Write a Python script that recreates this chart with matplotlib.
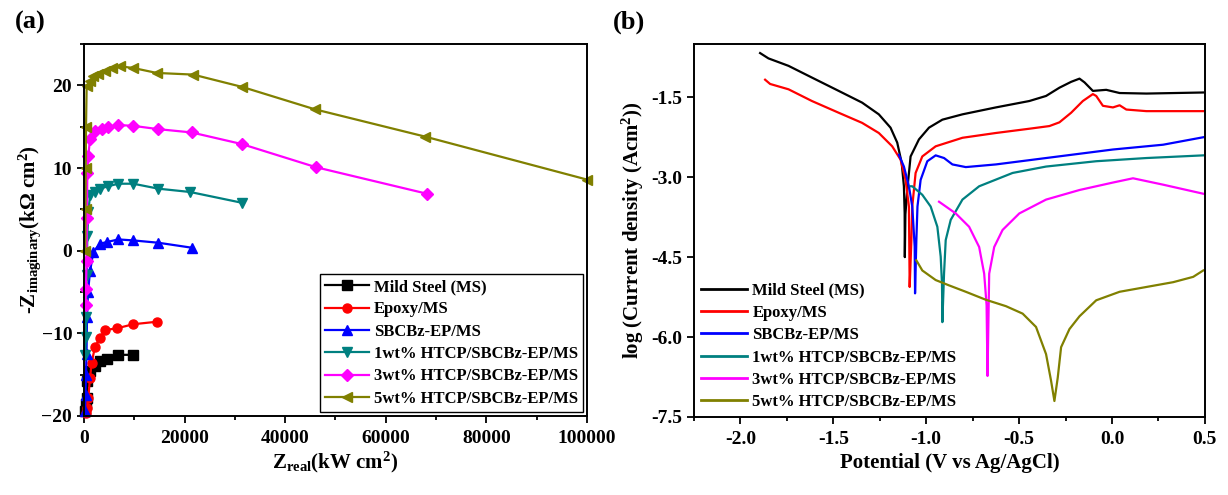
import matplotlib
matplotlib.use("Agg")
import matplotlib.pyplot as plt
from matplotlib.ticker import MultipleLocator, FormatStrFormatter

plt.rcParams['font.family'] = ['Liberation Serif', 'DejaVu Serif']
plt.rcParams['font.weight'] = 'bold'
plt.rcParams['mathtext.fontset'] = 'custom'
plt.rcParams['mathtext.rm'] = 'Liberation Serif:bold'
plt.rcParams['mathtext.it'] = 'Liberation Serif:bold:italic'
plt.rcParams['mathtext.bf'] = 'Liberation Serif:bold'

labels = ["Mild Steel (MS)", "Epoxy/MS", "SBCBz-EP/MS",
          "1wt% HTCP/SBCBz-EP/MS", "3wt% HTCP/SBCBz-EP/MS", "5wt% HTCP/SBCBz-EP/MS"]
colors = ["#000000", "#ff0000", "#0000ff", "#008080", "#ff00ff", "#808000"]
markers = ["s", "o", "^", "v", "D", "<"]

# ---------- (a) Nyquist data ----------
ms_zr = [200, 400, 530, 660, 1200, 2190, 3180, 4510, 6830, 9800]
ms_zi = [-19.4, -18.5, -17.8, -15.8, -14.6, -14.0, -13.4, -13.1, -12.6, -12.6]

ep_zr = [300, 500, 860, 1200, 1520, 2190, 3180, 4170, 6500, 9800, 14450]
ep_zi = [-19.6, -19.0, -17.8, -15.4, -13.6, -11.6, -10.6, -9.6, -9.4, -8.9, -8.6]

sb_zr = [200, 300, 400, 500, 600, 800, 1200, 1850, 3180, 4510, 6830, 9800, 14770, 21400]
sb_zi = [-19.4, -17.5, -15.0, -12.5, -8.0, -5.0, -2.5, -0.16, 0.84, 1.04, 1.36, 1.24, 0.96, 0.36]

h1_zr = [250, 350, 450, 550, 660, 860, 1200, 2190, 3180, 4830, 6830, 9800, 14770, 21070, 31350]
h1_zi = [-12.6, -10.5, -8.0, -3.0, 1.8, 4.7, 6.7, 7.1, 7.5, 7.8, 8.1, 8.1, 7.5, 7.1, 5.8]

h3_zr = [300, 400, 500, 580, 660, 860, 1200, 2190, 3510, 4830, 6830, 9800, 14770, 21400, 31350, 46100, 68100]
h3_zi = [-6.6, -4.6, -1.3, 4.0, 9.4, 11.5, 13.5, 14.5, 14.7, 14.9, 15.2, 15.1, 14.7, 14.3, 12.9, 10.1, 6.9]

h5_zr = [250, 300, 350, 400, 530, 1200, 1850, 2850, 4170, 5500, 7160, 9800, 14450, 21700, 31500, 45900, 67800, 100000]
h5_zi = [0.0, 5.0, 10.0, 15.0, 19.9, 20.5, 21.1, 21.4, 21.7, 22.1, 22.3, 22.1, 21.5, 21.3, 19.8, 17.1, 13.8, 8.6]

# ---------- (b) Tafel data ----------
ms_E = [-1.894, -1.849, -1.741, -1.615, -1.471, -1.345, -1.255, -1.192, -1.156, -1.132, -1.120, -1.116, -1.115,
        -1.112, -1.102, -1.084, -1.039, -0.985, -0.913, -0.805, -0.625, -0.445, -0.355, -0.283, -0.220, -0.175,
        -0.148, -0.103, -0.031, 0.041, 0.185, 0.491]
ms_I = [-0.67, -0.77, -0.91, -1.13, -1.38, -1.60, -1.82, -2.07, -2.35, -2.73, -3.17, -3.67, -4.50,
        -3.70, -3.24, -2.61, -2.29, -2.07, -1.92, -1.82, -1.69, -1.57, -1.475, -1.32, -1.21, -1.15,
        -1.22, -1.38, -1.36, -1.42, -1.43, -1.41]

ep_E = [-1.867, -1.840, -1.741, -1.615, -1.471, -1.345, -1.255, -1.183, -1.138, -1.111, -1.093, -1.089,
        -1.080, -1.075, -1.057, -1.021, -0.949, -0.805, -0.625, -0.445, -0.337, -0.283, -0.220, -0.157, -0.103,
        -0.085, -0.049, 0.005, 0.041, 0.077, 0.185, 0.491]
ep_I = [-1.17, -1.25, -1.35, -1.57, -1.79, -1.98, -2.17, -2.42, -2.67, -3.05, -3.55, -5.06,
        -4.20, -3.55, -2.92, -2.61, -2.42, -2.26, -2.17, -2.09, -2.04, -1.97, -1.79, -1.57, -1.44,
        -1.475, -1.66, -1.69, -1.65, -1.73, -1.76, -1.76]

sb_E = [-1.147, -1.120, -1.093, -1.075, -1.062, -1.060, -1.053, -1.047, -1.030, -0.994, -0.949, -0.904,
        -0.859, -0.787, -0.625, -0.355, 0.005, 0.275, 0.491]
sb_I = [-2.58, -2.80, -3.17, -3.55, -4.30, -5.18, -4.18, -3.55, -3.05, -2.70, -2.59, -2.64,
        -2.76, -2.81, -2.76, -2.64, -2.48, -2.39, -2.25]

h1_E = [-1.084, -1.075, -1.021, -0.976, -0.940, -0.922, -0.915, -0.913, -0.904, -0.895, -0.868, -0.805,
        -0.715, -0.535, -0.355, -0.085, 0.185, 0.491]
h1_I = [-3.17, -3.17, -3.33, -3.55, -3.93, -4.49, -5.00, -5.72, -4.81, -4.18, -3.80, -3.42,
        -3.17, -2.92, -2.80, -2.70, -2.64, -2.59]

h3_E = [-0.931, -0.841, -0.769, -0.715, -0.688, -0.675, -0.670, -0.661, -0.634, -0.589, -0.499, -0.355,
        -0.175, 0.005, 0.113, 0.275, 0.491]
h3_I = [-3.46, -3.68, -3.93, -4.31, -4.81, -5.40, -6.73, -4.81, -4.31, -3.99, -3.68, -3.42,
        -3.24, -3.10, -3.02, -3.14, -3.31]

h5_E = [-1.053, -1.021, -0.949, -0.877, -0.787, -0.679, -0.571, -0.481, -0.409, -0.355, -0.328, -0.310,
        -0.292, -0.274, -0.229, -0.175, -0.085, 0.041, 0.185, 0.329, 0.437, 0.491]
h5_I = [-4.56, -4.75, -4.93, -5.03, -5.15, -5.30, -5.42, -5.56, -5.81, -6.32, -6.82, -7.20,
        -6.76, -6.19, -5.85, -5.61, -5.31, -5.15, -5.06, -4.97, -4.87, -4.75]

nyq = [(ms_zr, ms_zi), (ep_zr, ep_zi), (sb_zr, sb_zi), (h1_zr, h1_zi), (h3_zr, h3_zi), (h5_zr, h5_zi)]
taf = [(ms_E, ms_I), (ep_E, ep_I), (sb_E, sb_I), (h1_E, h1_I), (h3_E, h3_I), (h5_E, h5_I)]

fig = plt.figure(figsize=(12.28, 4.95), dpi=100)
axA = fig.add_axes([0.0684, 0.1596, 0.4096, 0.7515])
axB = fig.add_axes([0.5651, 0.1576, 0.4161, 0.7535])

for (x, y), c, m, lab in zip(nyq, colors, markers, labels):
    axA.plot(x, y, color=c, marker=m, markersize=6.5, linewidth=1.6, label=lab, clip_on=False)
for (x, y), c, lab in zip(taf, colors, labels):
    axB.plot(x, y, color=c, linewidth=1.6, label=lab)

for ax in (axA, axB):
    for s in ax.spines.values():
        s.set_linewidth(1.4)
    ax.tick_params(which='both', direction='out', top=False, right=False, labelsize=14, width=1.3)
    ax.tick_params(which='major', length=5)
    ax.tick_params(which='minor', length=3)
    ax.tick_params(axis='x', which='major', pad=5)
    for t in ax.get_xticklabels() + ax.get_yticklabels():
        t.set_fontweight('bold')

axA.set_xlim(0, 100000)
axA.set_ylim(-20, 25)
axA.xaxis.set_major_locator(MultipleLocator(20000))
axA.xaxis.set_minor_locator(MultipleLocator(10000))
axA.xaxis.set_major_formatter(FormatStrFormatter('%d'))
axA.yaxis.set_major_locator(MultipleLocator(10))
axA.yaxis.set_minor_locator(MultipleLocator(5))
axA.set_xlabel(r'Z$_{\mathrm{real}}$(kW cm$^{\mathrm{2}}$)', fontsize=15, fontweight='bold', labelpad=2)
axA.set_ylabel(r'-Z$_{\mathrm{imaginary}}$(kΩ cm$^{\mathrm{2}}$)', fontsize=15, fontweight='bold', labelpad=-1)
legA = axA.legend(loc='lower right', fontsize=12, numpoints=1, handlelength=2.6, labelspacing=0.38,
                  borderaxespad=0.25, borderpad=0.3, handletextpad=0.3, fancybox=False, edgecolor='black',
                  framealpha=1)
legA.get_frame().set_linewidth(1.0)
for t in legA.get_texts():
    t.set_fontweight('bold')

axB.set_xlim(-2.25, 0.5)
axB.set_ylim(-7.5, -0.5)
axB.xaxis.set_major_locator(MultipleLocator(0.5))
axB.xaxis.set_minor_locator(MultipleLocator(0.25))
axB.xaxis.set_major_formatter(FormatStrFormatter('%.1f'))
axB.yaxis.set_major_locator(MultipleLocator(1.5))
axB.yaxis.set_major_formatter(FormatStrFormatter('%.1f'))
axB.set_xlabel('Potential (V vs Ag/AgCl)', fontsize=15, fontweight='bold', labelpad=4)
axB.set_ylabel(r'log (Current density (Acm$^{\mathrm{2}}$))', fontsize=15, fontweight='bold', labelpad=4)
legB = axB.legend(loc='lower left', fontsize=12, handlelength=2.8, labelspacing=0.38, frameon=False,
                  borderaxespad=0.1, borderpad=0.3, handletextpad=0.3)
for t in legB.get_texts():
    t.set_fontweight('bold')
for l in legB.get_lines():
    l.set_linewidth(2.0)

fig.text(0.012, 0.955, '(a)', fontsize=19, fontweight='bold', va='center', ha='left')
fig.text(0.499, 0.955, '(b)', fontsize=19, fontweight='bold', va='center', ha='left')

fig.savefig('out.png', dpi=100)
